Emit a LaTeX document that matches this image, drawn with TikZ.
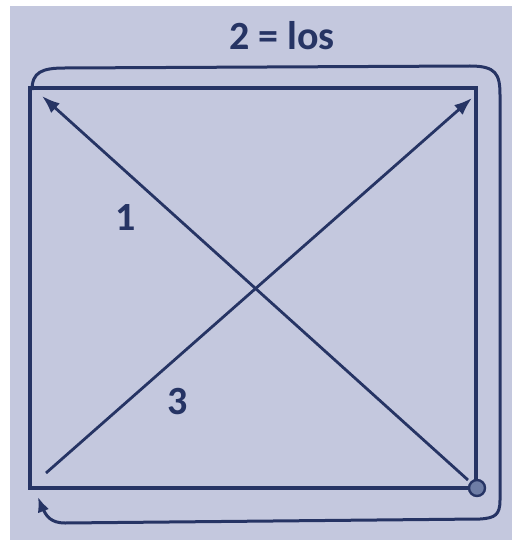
\documentclass[tikz,border=0pt]{standalone}
\usepackage{fontspec}
\setmainfont{Carlito}
\usetikzlibrary{arrows.meta}
\definecolor{bg}{RGB}{196,200,222}
\definecolor{ink}{RGB}{38,52,100}
\definecolor{dot}{RGB}{110,125,165}
\begin{document}
\begin{tikzpicture}[x=1pt,y=-1pt,
  edge/.style={draw=ink,line width=3.2pt},
  diag/.style={draw=ink,line width=2.8pt,-{Latex[length=18pt,width=13pt]}},
  lbl/.style={text=ink,font=\bfseries\fontsize{40}{40}\selectfont,inner sep=0pt}]
\useasboundingbox (0,0) rectangle (512,540);
\fill[white] (0,0) rectangle (512,540);
\fill[bg] (10,6) rectangle (512,540);
% square
\coordinate (tl) at (30,88);
\coordinate (tr) at (476,88);
\coordinate (br) at (476,488);
\coordinate (bl) at (30,488);
\draw[edge,line cap=rect] (tl) -- (tr) -- (br) -- (bl) -- cycle;
% diagonals
\coordinate (d1s) at (468,480);
\coordinate (d1e) at (42,96);
\coordinate (d2s) at (46,473);
\coordinate (d2e) at (472,98);
\draw[diag] (d1s) -- (d1e);
\draw[diag] (d2s) -- (d2e);
% circle
\node[circle,fill=dot,draw=ink,line width=2.4pt,minimum size=16pt,inner sep=0pt] (c) at (477,488) {};
% outer loop
\coordinate (ls) at (32,90);
\coordinate (le) at (38,497);
\draw[edge,line width=3pt] (ls) .. controls (32,72) and (42,68) .. (65,68)
  -- (470,66) .. controls (496,66) and (500,74) .. (500,95)
  -- (500,500) .. controls (500,515) and (495,518) .. (480,519)
  -- (65,523) .. controls (52,523) and (45,517) .. (42,505);
\draw[ink,line width=3pt,-{Latex[length=15pt,width=12pt]}] (43,510) -- (le);
% labels
\node[lbl] (t) at (282,36) {2 = los};
\node[lbl] (one) at (126,218) {1};
\node[lbl] (three) at (178,402) {3};
\end{tikzpicture}
\end{document}
